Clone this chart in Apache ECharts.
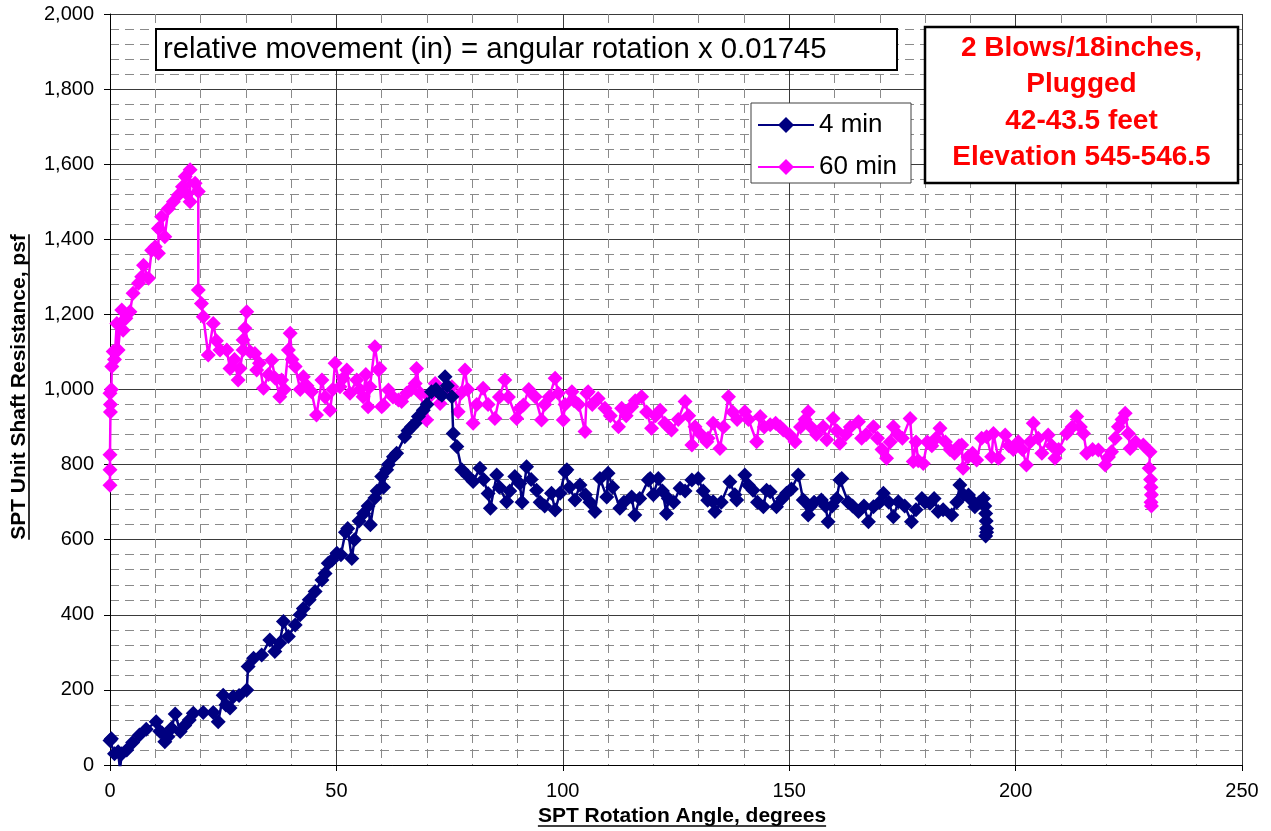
<!DOCTYPE html>
<html><head><meta charset="utf-8">
<script src="https://cdn.jsdelivr.net/npm/echarts@6/dist/echarts.min.js"></script>
<style>html,body{margin:0;padding:0;background:#fff}#c{width:1271px;height:831px}</style>
</head><body><div id="c"></div>
<script>
// ---- data: [rotation angle (deg), unit shaft resistance (psf)] ----
const series4min = [[0,65],[0.3,70],[1,30],[1.8,35],[2.2,-12],[2.6,30],[3.7,40],[5,60],[6.5,80],[8,95],[10.2,115],[11,90],[11.5,85],[12.1,62],[12.8,75],[13.6,98],[14.4,136],[15.5,89],[16.5,105],[17.5,120],[18.4,138],[20.6,140],[22.8,140],[23.9,115],[25,186],[25.6,160],[26.5,152],[27.2,182],[28.5,185],[30.2,200],[30.5,262],[31.7,284],[33.5,293],[35.3,333],[36.4,302],[37.5,325],[38.3,382],[39.4,342],[40.9,373],[42,400],[42.7,417],[44,440],[45.3,462],[46.8,493],[47.5,510],[48.2,537],[49,545],[50.1,564],[51,560],[52,620],[52.5,630],[53.4,550],[54,600],[55,650],[56,670],[57,690],[57.5,640],[58.5,711],[59,730],[60,768],[60.4,740],[61.1,786],[61.5,800],[62.6,821],[63.3,830],[65.1,874],[65.8,890],[66.6,901],[67.4,910],[68.1,928],[69.2,945],[70,960],[71,994],[72,1000],[72.7,990],[73.3,985],[74,1034],[74.5,1010],[75.5,981],[75.8,883],[76.6,848],[77.7,786],[79,770],[80.2,755],[81.7,790],[82.5,760],[83.5,723],[84,684],[85.4,772],[86,740],[87.6,701],[88.3,730],[89.4,768],[90.5,750],[91,700],[92,794],[93,760],[94.2,732],[95,700],[96,690],[97.5,724],[98.3,679],[99.4,724],[100.5,781],[100.9,786],[101.5,740],[102.7,706],[103.8,746],[105,720],[106,700],[107.1,675],[108.2,763],[109.7,714],[110,777],[111,740],[112.6,684],[113.5,700],[115.2,714],[115.9,666],[117,710],[118.9,759],[119.3,763],[120,720],[121.1,763],[122,730],[122.9,670],[123.3,710],[124.5,700],[125.9,737],[127,730],[128.5,759],[129.9,763],[131,730],[132,705],[133.2,701],[133.6,675],[135,700],[136.9,754],[138,720],[138.4,706],[140.2,772],[141,745],[142,732],[143,700],[144.3,688],[145,732],[145.8,728],[147.2,688],[148.5,710],[149.4,724],[150.5,735],[152,772],[153.1,706],[154.2,666],[154.6,688],[155.5,700],[157.1,706],[158,690],[158.6,648],[159.5,690],[160.5,710],[161.2,759],[161.6,763],[163,700],[164,690],[165.3,675],[166.5,690],[167.5,648],[168.6,688],[170,700],[170.8,724],[172,700],[173,661],[174.1,701],[175.5,690],[177,648],[178,680],[179.3,710],[180,700],[181.1,697],[182,710],[182.9,675],[184,680],[185.9,666],[187,700],[187.7,746],[188.5,720],[189.6,719],[190.3,705],[191,688],[192,700],[192.9,710],[193.2,690],[193.4,670],[193.5,650],[193.6,630],[193.4,610],[193.6,620]];

const series60min = [[0,745],[0,786],[0,826],[0.1,940],[0.1,960],[0,990],[0.3,1000],[0.4,1061],[0.7,1101],[1,1080],[1.5,1176],[1.8,1105],[2.6,1212],[2.9,1158],[3.5,1190],[4.4,1207],[5.1,1256],[6.3,1283],[7,1300],[7.4,1331],[8.5,1296],[9.2,1371],[10,1380],[10.7,1363],[10.7,1429],[11.4,1460],[12.1,1407],[12.9,1482],[14,1500],[15.1,1518],[16,1540],[16.6,1567],[16.9,1522],[17.7,1585],[17.7,1500],[18.8,1549],[19.5,1527],[19.5,1265],[20.2,1229],[20.6,1194],[21.7,1092],[22.8,1176],[23.5,1130],[24.3,1105],[25.8,1105],[26.5,1056],[27.5,1080],[28.3,1025],[28.7,1056],[29.4,1105],[29.4,1132],[30.2,1207],[29.8,1163],[31,1100],[32,1096],[32.4,1052],[33,1070],[33.9,1003],[35,1040],[35.7,1078],[36.5,1030],[37.5,981],[37.9,1025],[38.5,1000],[39.4,1105],[39.8,1150],[40.2,1080],[40.9,1061],[42,1000],[42.7,1034],[43.5,1010],[44.5,994],[45.6,932],[46.8,1025],[47.5,980],[48.6,945],[49.2,1000],[49.7,1070],[50.8,1007],[51.5,1030],[52.3,1052],[53,990],[54.5,1025],[55.2,1000],[55.9,981],[56.5,1040],[57,954],[57.4,1007],[58.5,1114],[59.3,1052],[59.6,1056],[60,954],[60.4,959],[61.5,999],[62.5,980],[63.7,972],[64.4,968],[65.5,990],[66.5,1000],[67.4,1016],[67.7,1056],[68.5,990],[69.9,919],[70.5,980],[71.8,1016],[72.9,963],[74,1000],[75.5,1007],[76.9,941],[77.5,990],[78.4,1052],[79,1000],[80.2,910],[81,960],[82.4,1003],[83.5,960],[85,923],[86,980],[87.2,1025],[88,980],[89.8,923],[90.5,950],[91.3,959],[92.5,1000],[93.9,981],[95.3,919],[96,960],[97,980],[98.3,1030],[99,990],[100.1,919],[100.5,960],[102,994],[102.5,970],[103.5,960],[104.9,888],[105.3,990],[105.6,994],[106.5,960],[107.8,976],[109.3,950],[110.5,930],[112.3,901],[113,950],[114,930],[115.2,954],[116,970],[117.4,981],[118.5,940],[119.6,897],[120.5,930],[121.5,945],[122.5,910],[123.3,901],[124,892],[125.5,920],[127,968],[127.8,930],[128.5,852],[129.2,901],[130.5,880],[131.8,861],[132.1,870],[133.2,910],[134.7,843],[135.5,900],[136.6,981],[137.5,940],[138.5,920],[140.2,941],[141,920],[142.8,861],[143.6,928],[144.5,900],[145.8,906],[147,910],[148,901],[148.7,892],[150,880],[151.3,861],[152.5,900],[153.5,920],[154.2,941],[154.8,900],[156,880],[157.5,901],[158.3,866],[159.7,923],[160.5,890],[161.2,857],[162.5,880],[163.5,900],[165.3,914],[166,870],[167,880],[168.6,901],[169.5,870],[170.5,840],[171.5,817],[172.3,860],[173,901],[174,880],[175,870],[176.7,923],[177.4,808],[178,860],[178.5,810],[179.6,803],[180.5,860],[181.5,850],[182.4,870],[183.3,897],[184.5,860],[185.5,840],[186.5,830],[187.5,850],[188.1,852],[188.4,790],[189.5,820],[190.5,830],[191.4,812],[192.5,870],[193.6,874],[194.7,821],[195.1,883],[196.2,817],[197.7,879],[198.5,850],[199.5,840],[200.6,861],[201.5,840],[202.4,799],[203.2,860],[203.9,910],[205,870],[205.8,830],[207.2,879],[208,850],[208.7,817],[209.5,840],[211.3,883],[212.5,900],[213.5,928],[214.3,900],[215,883],[215.7,830],[217,840],[218.3,839],[219.8,799],[220.5,820],[221.2,834],[222,870],[222.7,901],[223.5,920],[224.2,937],[224.9,883],[225.3,843],[226.5,860],[228.2,852],[229.7,834],[229.5,790],[229.8,760],[229.9,740],[230,720],[229.9,700],[230,690]];

const seriesNames = ['4 min', '60 min'];
const xTitle = 'SPT Rotation Angle, degrees';
const yTitle = 'SPT Unit Shaft Resistance, psf';
const noteText = 'relative movement (in) = angular rotation x 0.01745';
const infoLines = ['2 Blows/18inches,', 'Plugged', '42-43.5 feet', 'Elevation 545-546.5'];

// ---- chart ----
const FF = '"Liberation Sans", Arial, sans-serif';
const ctx = document.createElement('canvas').getContext('2d');
function tw(t, f) { ctx.font = f; return ctx.measureText(t).width; }
const titleFont = 'bold 21px ' + FF;
const wx = tw(xTitle, titleFont), wy = tw(yTitle, titleFont);

const chart = echarts.init(document.getElementById('c'), null, {renderer: 'canvas'});
const majorLine = {show: true, lineStyle: {color: '#3a3a3a', width: 1}};
const minorLine = {show: true, lineStyle: {color: '#8a8a8a', width: 1, type: [9, 6]}};

const graphic = [
  {type: 'rect', z: 100, shape: {x: 156, y: 29, width: 741, height: 41}, style: {fill: '#fff', stroke: '#000', lineWidth: 2}},
  {type: 'text', z: 101, x: 163, y: 50, style: {text: noteText, font: '29.3px ' + FF, fill: '#000', textAlign: 'left', textVerticalAlign: 'middle'}},
  {type: 'rect', z: 100, shape: {x: 925, y: 27, width: 313, height: 156}, style: {fill: '#fff', stroke: '#000', lineWidth: 2.5}},
  {type: 'rect', z: 100, shape: {x: 751, y: 103, width: 160, height: 80}, style: {fill: '#fff', stroke: '#404040', lineWidth: 1}},
  {type: 'group', z: 101, x: 682, y: 816, children: [
    {type: 'text', z: 101, style: {text: xTitle, font: titleFont, fill: '#000', textAlign: 'center', textVerticalAlign: 'middle'}},
    {type: 'line', z: 101, shape: {x1: -wx / 2, y1: 10, x2: wx / 2, y2: 10}, style: {stroke: '#000', lineWidth: 1.6}}
  ]},
  {type: 'group', z: 101, x: 19, y: 387, rotation: Math.PI / 2, children: [
    {type: 'text', z: 101, style: {text: yTitle, font: titleFont, fill: '#000', textAlign: 'center', textVerticalAlign: 'middle'}},
    {type: 'line', z: 101, shape: {x1: -wy / 2, y1: 10, x2: wy / 2, y2: 10}, style: {stroke: '#000', lineWidth: 1.6}}
  ]}
];
infoLines.forEach((t, i) => {
  graphic.push({type: 'text', z: 101, x: 1081.5, y: 48 + i * 36.5,
    style: {text: t, font: 'bold 28px ' + FF, fill: '#FF0000', textAlign: 'center', textVerticalAlign: 'middle'}});
});

chart.setOption({
  animation: false,
  backgroundColor: '#fff',
  grid: {left: 110, top: 14, right: 29, bottom: 66, containLabel: false},
  legend: {
    data: seriesNames, orient: 'vertical', left: 757, top: 112, padding: 0,
    itemWidth: 56, itemHeight: 20, itemGap: 16, z: 110,
    textStyle: {fontFamily: FF, fontSize: 26, color: '#000'}
  },
  xAxis: {
    type: 'value', min: 0, max: 250, interval: 50,
    axisLine: {show: true, onZero: false, lineStyle: {color: '#000', width: 1}},
    axisTick: {show: true, length: 6, lineStyle: {color: '#000'}},
    minorTick: {show: false, splitNumber: 5},
    axisLabel: {fontFamily: FF, fontSize: 20, color: '#000', margin: 16},
    splitLine: majorLine, minorSplitLine: minorLine
  },
  yAxis: {
    type: 'value', min: 0, max: 2000, interval: 200,
    axisLine: {show: true, lineStyle: {color: '#000', width: 1}},
    axisTick: {show: true, length: 6, lineStyle: {color: '#000'}},
    minorTick: {show: false, splitNumber: 5},
    axisLabel: {fontFamily: FF, fontSize: 20, color: '#000', margin: 16,
      formatter: v => v.toLocaleString('en-US')},
    splitLine: majorLine, minorSplitLine: minorLine
  },
  graphic: graphic,
  series: [
    {name: seriesNames[1], type: 'line', data: series60min, symbol: 'diamond', symbolSize: 15,
     itemStyle: {color: '#FF00FF'}, lineStyle: {color: '#FF00FF', width: 2.5}, z: 2},
    {name: seriesNames[0], type: 'line', data: series4min, symbol: 'diamond', symbolSize: 15,
     itemStyle: {color: '#000080'}, lineStyle: {color: '#000080', width: 2.5}, z: 3}
  ]
});
</script></body></html>
